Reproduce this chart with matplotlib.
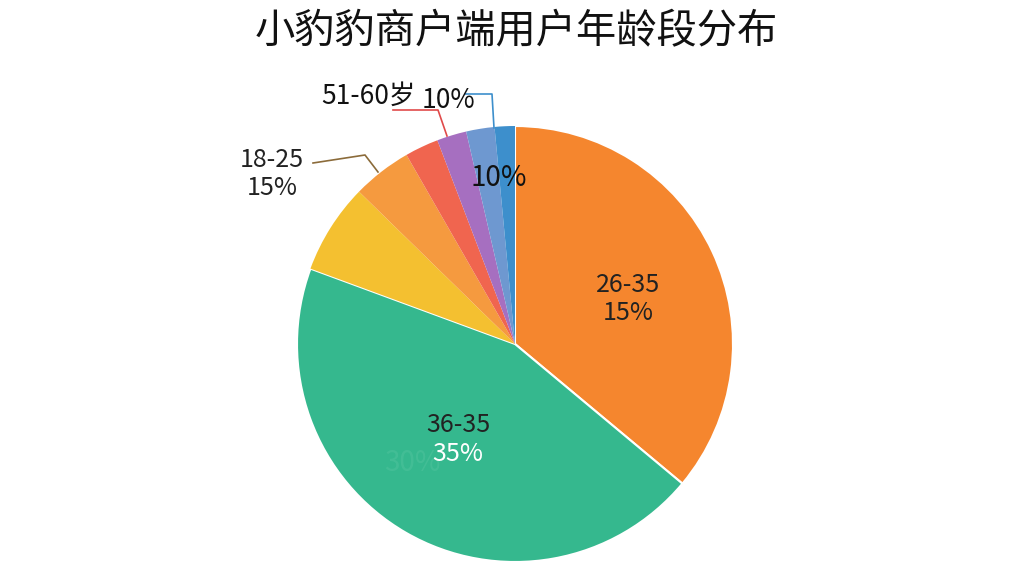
import matplotlib
matplotlib.use("Agg")
import matplotlib.pyplot as plt

plt.rcParams['font.family'] = ['Noto Sans CJK SC', 'DejaVu Sans']

# slices clockwise from 12 o'clock
shares = [36.1, 44.6, 6.7, 4.4, 2.5, 2.2, 2.1, 1.5]
colors = ['#F5862E', '#35B88E', '#F4C030', '#F59A3F',
          '#F0654F', '#A66FC0', '#6E98D0', '#3D8FCC']

title = "小豹豹商户端用户年龄段分布"

W, H = 1024, 576
fig = plt.figure(figsize=(W / 100, H / 100), dpi=100)
ax = fig.add_axes([0, 0, 1, 1])
ax.set_xlim(0, W)
ax.set_ylim(0, H)
ax.set_aspect('equal')
ax.axis('off')

def y(py):
    return H - py

wedges, _ = ax.pie(shares, colors=colors, startangle=90, counterclock=False,
                   center=(515, y(344)), radius=218,
                   wedgeprops=dict(edgecolor='none'))
for w in wedges[:2]:
    w.set_edgecolor('white')
    w.set_linewidth(1.5)
ax.set_xlim(0, W)
ax.set_ylim(0, H)

ax.text(516, y(32), title, ha='center', va='center', fontsize=29,
        fontweight='medium', color='#111111')

# inner labels
ax.text(628, y(285), "26-35", ha='center', va='center', fontsize=18, color='#222222')
ax.text(628, y(313), "15%", ha='center', va='center', fontsize=18, color='#222222')
ax.text(412, y(463), "30%", ha='center', va='center', fontsize=20,
        color='#5CC8A4', alpha=0.35)
ax.text(458, y(425), "36-35", ha='center', va='center', fontsize=18, color='#222222')
ax.text(458, y(454), "35%", ha='center', va='center', fontsize=18, color='white')
ax.text(499, y(178), "10%", ha='center', va='center', fontsize=20, color='#111111')

# outer labels with leader lines
ax.text(272, y(160), "18-25", ha='center', va='center', fontsize=18, color='#222222')
ax.text(272, y(188), "15%", ha='center', va='center', fontsize=18, color='#222222')
ax.plot([313, 365, 378], [y(163), y(155), y(172)], color='#8B6B3A', lw=1.2)

ax.text(368, y(96), "51-60岁", ha='center', va='center', fontsize=19, color='#111111')
ax.text(448, y(100), "10%", ha='center', va='center', fontsize=19, color='#111111')
ax.plot([393, 438, 447], [y(110), y(110), y(136)], color='#E04A4A', lw=1.2)
ax.plot([465, 492, 494], [y(94), y(94), y(128)], color='#3D8FCC', lw=1.2)

fig.savefig("out.png", dpi=100, facecolor='white')
